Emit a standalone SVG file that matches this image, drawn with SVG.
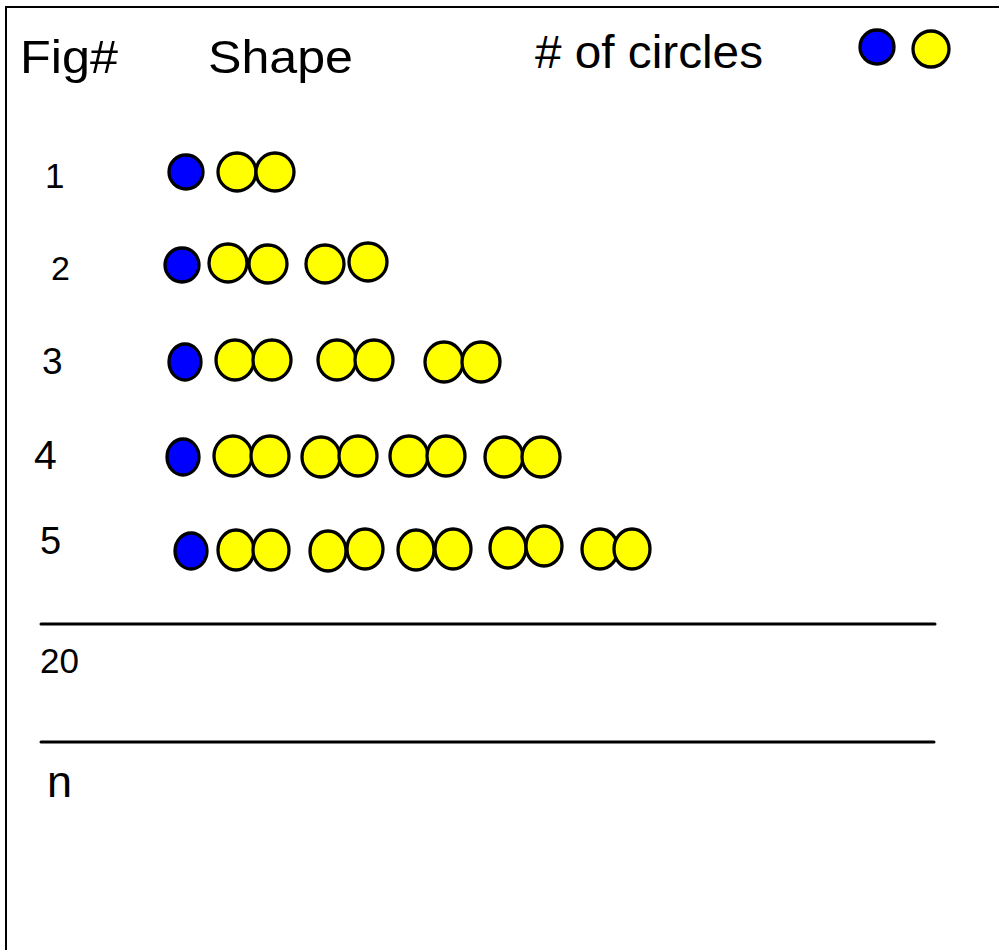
<svg xmlns="http://www.w3.org/2000/svg" width="999" height="950" viewBox="0 0 999 950">
  <style>
    .t { font-family: "Liberation Sans", Arial, sans-serif; fill: #000; }
    .b { fill: #0000ff; stroke: #000; stroke-width: 3.3; }
    .y { fill: #ffff00; stroke: #000; stroke-width: 3.3; }
    .rule { stroke: #000; stroke-width: 3; stroke-linecap: round; }
  </style>
  <rect x="0" y="0" width="999" height="950" fill="#fff"/>
  <!-- page frame (runs off the right and bottom edges) -->
  <rect x="6" y="7" width="1100" height="1000" fill="none" stroke="#000" stroke-width="2"/>

  <!-- column headings -->
  <g id="header">
    <text class="t" x="20" y="73" font-size="46" textLength="98" lengthAdjust="spacingAndGlyphs">Fig#</text>
    <text class="t" x="208" y="73" font-size="46" textLength="145" lengthAdjust="spacingAndGlyphs">Shape</text>
    <text class="t" x="535" y="68" font-size="46" textLength="228" lengthAdjust="spacingAndGlyphs"># of circles</text>
    <circle class="b" cx="877" cy="47" r="17"/>
    <circle class="y" cx="931" cy="49" r="18"/>
  </g>

  <!-- figure 1 -->
  <g id="fig1">
    <text class="t" x="45" y="188" font-size="35">1</text>
    <circle class="b" cx="186" cy="172" r="17"/>
    <circle class="y" cx="237" cy="172" r="19"/>
    <circle class="y" cx="275" cy="172" r="19"/>
  </g>

  <!-- figure 2 -->
  <g id="fig2">
    <text class="t" x="51" y="280" font-size="34">2</text>
    <circle class="b" cx="182" cy="265" r="17"/>
    <circle class="y" cx="228" cy="263" r="19"/>
    <circle class="y" cx="268" cy="264" r="19"/>
    <circle class="y" cx="325" cy="264" r="19"/>
    <circle class="y" cx="368" cy="262" r="19"/>
  </g>

  <!-- figure 3 -->
  <g id="fig3">
    <text class="t" x="42" y="374" font-size="37">3</text>
    <ellipse class="b" cx="185" cy="362" rx="16" ry="18"/>
    <ellipse class="y" cx="235" cy="360" rx="19" ry="20"/>
    <ellipse class="y" cx="272" cy="360" rx="19" ry="20"/>
    <ellipse class="y" cx="337" cy="360" rx="19" ry="20"/>
    <ellipse class="y" cx="374" cy="360" rx="19" ry="20"/>
    <ellipse class="y" cx="444" cy="362" rx="19" ry="20"/>
    <ellipse class="y" cx="481" cy="362" rx="19" ry="20"/>
  </g>

  <!-- figure 4 -->
  <g id="fig4">
    <text class="t" x="34" y="469" font-size="41">4</text>
    <ellipse class="b" cx="183" cy="457" rx="16" ry="18"/>
    <ellipse class="y" cx="233" cy="456" rx="19" ry="20"/>
    <ellipse class="y" cx="270" cy="456" rx="19" ry="20"/>
    <ellipse class="y" cx="321" cy="457" rx="19" ry="20"/>
    <ellipse class="y" cx="358" cy="456" rx="19" ry="20"/>
    <ellipse class="y" cx="409" cy="456" rx="19" ry="20"/>
    <ellipse class="y" cx="446" cy="456" rx="19" ry="20"/>
    <ellipse class="y" cx="504" cy="457" rx="19" ry="20"/>
    <ellipse class="y" cx="541" cy="457" rx="19" ry="20"/>
  </g>

  <!-- figure 5 -->
  <g id="fig5">
    <text class="t" x="40" y="554" font-size="38">5</text>
    <ellipse class="b" cx="191" cy="551" rx="16" ry="18"/>
    <ellipse class="y" cx="236" cy="550" rx="18" ry="20"/>
    <ellipse class="y" cx="271" cy="550" rx="18" ry="20"/>
    <ellipse class="y" cx="328" cy="551" rx="18" ry="20"/>
    <ellipse class="y" cx="365" cy="549" rx="18" ry="20"/>
    <ellipse class="y" cx="416" cy="550" rx="18" ry="20"/>
    <ellipse class="y" cx="453" cy="549" rx="18" ry="20"/>
    <ellipse class="y" cx="508" cy="548" rx="18" ry="20"/>
    <ellipse class="y" cx="544" cy="546" rx="18" ry="20"/>
    <ellipse class="y" cx="600" cy="549" rx="18" ry="20"/>
    <ellipse class="y" cx="632" cy="549" rx="18" ry="20"/>
  </g>

  <!-- answer rows -->
  <g id="rules">
    <line class="rule" x1="41" y1="624" x2="935" y2="624"/>
    <line class="rule" x1="41" y1="742" x2="934" y2="742"/>
  </g>
  <g id="row20">
    <text class="t" x="40" y="673" font-size="35">20</text>
  </g>
  <g id="rowN">
    <text class="t" x="47" y="797" font-size="45">n</text>
  </g>
</svg>
